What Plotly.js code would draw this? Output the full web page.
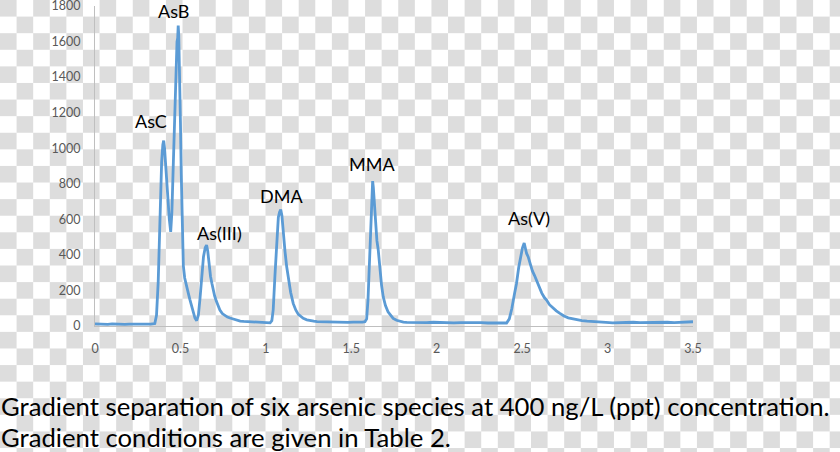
<!DOCTYPE html>
<html>
<head>
<meta charset="utf-8">
<script src="https://cdn.plot.ly/plotly-3.0.1.min.js"></script>
<style>
html, body { margin: 0; padding: 0; }
body {
  width: 840px; height: 452px; overflow: hidden; position: relative;
  background: repeating-conic-gradient(#ffffff 0% 25%, #dddddd 0% 50%) 0 0 / 33.2px 33.2px;
}
#chart { position: absolute; left: 0; top: -20px; width: 840px; height: 472px; }
</style>
</head>
<body>
<div id="chart"></div>
<script>
// Retention time (min)
const time = [
  0, 0.025, 0.05, 0.075, 0.1, 0.125, 0.15, 0.175, 0.2, 0.225, 0.25, 0.275, 0.3, 0.325, 0.35,
  0.36, 0.37, 0.38, 0.39, 0.397, 0.402, 0.407, 0.415, 0.425, 0.435, 0.443, 0.45, 0.458, 0.466, 0.474,
  0.48, 0.484, 0.487, 0.49, 0.495, 0.5, 0.505, 0.51, 0.517, 0.525, 0.535, 0.546, 0.555, 0.565, 0.575,
  0.585, 0.595, 0.605, 0.615, 0.625, 0.635, 0.645, 0.653, 0.66, 0.668, 0.676, 0.684, 0.692, 0.7, 0.71,
  0.72, 0.731, 0.745, 0.76, 0.775, 0.79, 0.81, 0.83, 0.85, 0.87, 0.888, 0.91, 0.93, 0.95, 0.97,
  0.99, 1.01, 1.025, 1.035, 1.043, 1.053, 1.063, 1.073, 1.08, 1.087, 1.094, 1.102, 1.112, 1.122, 1.132,
  1.145, 1.16, 1.175, 1.19, 1.205, 1.219, 1.24, 1.26, 1.28, 1.3, 1.33, 1.36, 1.39, 1.42, 1.45,
  1.48, 1.51, 1.54, 1.565, 1.58, 1.59, 1.598, 1.605, 1.612, 1.618, 1.622, 1.625, 1.629, 1.635, 1.643,
  1.65, 1.658, 1.667, 1.677, 1.687, 1.7, 1.715, 1.73, 1.745, 1.765, 1.785, 1.805, 1.824, 1.86, 1.9,
  1.94, 1.98, 2.02, 2.06, 2.1, 2.14, 2.18, 2.22, 2.26, 2.3, 2.34, 2.38, 2.409, 2.425, 2.44,
  2.455, 2.467, 2.48, 2.492, 2.502, 2.512, 2.518, 2.526, 2.535, 2.548, 2.56, 2.572, 2.584, 2.6, 2.615,
  2.63, 2.643, 2.66, 2.68, 2.7, 2.721, 2.745, 2.77, 2.795, 2.818, 2.85, 2.88, 2.91, 2.95, 2.99,
  3.03, 3.07, 3.11, 3.15, 3.19, 3.23, 3.27, 3.31, 3.35, 3.39, 3.43, 3.47, 3.5
];
// Signal (counts)
const signal = [
  12, 10, 11, 9, 12, 10, 11, 9, 11, 10, 12, 10, 11, 10, 14,
  60, 250, 650, 920, 1020, 1043, 1000, 880, 720, 600, 529, 640, 900, 1200, 1450,
  1600, 1620, 1690, 1640, 1450, 1150, 850, 580, 340, 270, 220, 185, 150, 110, 75,
  45, 30, 60, 160, 300, 390, 440, 455, 420, 340, 280, 240, 200, 170, 140,
  115, 90, 70, 58, 50, 45, 38, 32, 28, 26, 25, 22, 20, 21, 18,
  19, 17, 18, 30, 90, 280, 450, 610, 640, 655, 620, 520, 420, 333, 260,
  190, 127, 90, 65, 52, 43, 35, 30, 27, 25, 24, 22, 23, 21, 22,
  20, 22, 21, 22, 24, 40, 150, 320, 520, 720, 790, 815, 780, 680, 560,
  480, 426, 330, 230, 164, 115, 80, 58, 43, 32, 26, 22, 20, 19, 20,
  19, 21, 19, 20, 18, 19, 20, 18, 19, 17, 18, 16, 17, 40, 100,
  180, 239, 330, 400, 440, 467, 430, 408, 390, 340, 310, 285, 258, 215, 185,
  160, 146, 120, 100, 85, 71, 56, 46, 40, 34, 30, 27, 24, 22, 20,
  18, 20, 19, 21, 19, 20, 22, 20, 21, 19, 20, 22, 24
];
// Peak labels
const peakNames = ["AsC", "AsB", "As(III)", "DMA", "MMA", "As(V)"];
const peakLabelX = [0.328, 0.459, 0.726, 1.091, 1.624, 2.542];
const peakLabelY = [1152, 1772, 524, 732, 911, 606];
// Axis ticks
const xTickVals = [0, 0.5, 1, 1.5, 2, 2.5, 3, 3.5];
const xTickText = ["0", "0.5", "1", "1.5", "2", "2.5", "3", "3.5"];
const yTickVals = [0, 200, 400, 600, 800, 1000, 1200, 1400, 1600, 1800];
const captionLines = [
  "Gradient separation of six arsenic species at 400 ng/L (ppt) concentration.",
  "Gradient conditions are given in Table 2."
];

const trace = {
  x: time, y: signal, type: "scatter", mode: "lines",
  line: { color: "#5b9bd5", width: 2.8 },
  hoverinfo: "skip"
};

const annotations = peakNames.map((name, i) => ({
  x: peakLabelX[i], y: peakLabelY[i], xref: "x", yref: "y",
  text: name, showarrow: false, xanchor: "center", yanchor: "middle",
  font: { family: "Lato, 'Open Sans', sans-serif", size: 18, color: "#000000" }
}));
const captionY = [-0.249, -0.348];
captionLines.forEach((t, i) => annotations.push({
  x: -0.16, y: captionY[i], xref: "paper", yref: "paper",
  text: t, showarrow: false, xanchor: "left", yanchor: "middle", align: "left",
  font: { family: "Lato, 'Open Sans', sans-serif", size: 25.7, color: "#000000" }
}));

const tickFont = { family: "Lato, 'Open Sans', sans-serif", size: 12.5, color: "#595959" };

const layout = {
  width: 840, height: 472,
  margin: { l: 95, r: 147, t: 26, b: 126, pad: 0 },
  paper_bgcolor: "rgba(0,0,0,0)",
  plot_bgcolor: "rgba(0,0,0,0)",
  showlegend: false,
  xaxis: {
    range: [0, 3.5], tickvals: xTickVals, ticktext: xTickText,
    showgrid: false, zeroline: false, showline: true, linecolor: "#bfbfbf", linewidth: 1,
    ticks: "", ticklabelstandoff: 11, tickfont: tickFont, fixedrange: true
  },
  yaxis: {
    range: [0, 1800], tickvals: yTickVals,
    showgrid: false, zeroline: false, showline: true, linecolor: "#bfbfbf", linewidth: 1,
    ticks: "", ticklabelstandoff: 11, tickfont: tickFont, fixedrange: true
  },
  annotations: annotations
};

Plotly.newPlot("chart", [trace], layout, { displayModeBar: false, staticPlot: true });
</script>
</body>
</html>
